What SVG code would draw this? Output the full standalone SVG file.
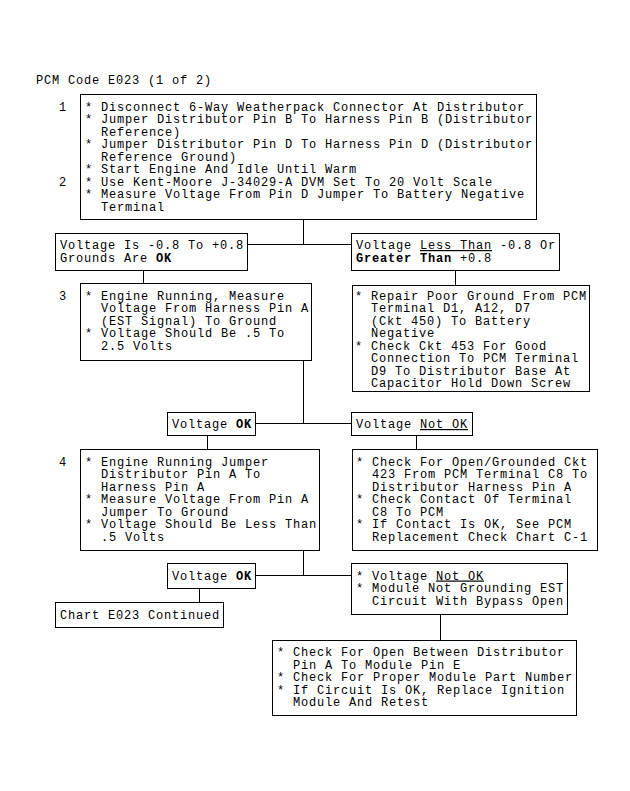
<svg xmlns="http://www.w3.org/2000/svg" width="630" height="791" viewBox="0 0 630 791">
<style>
text{font-family:"Liberation Mono","DejaVu Sans Mono",monospace;font-size:12px;letter-spacing:0.8px;fill:#000}
.b{font-weight:bold}
.u{text-decoration:underline}
rect{fill:#fff;stroke:#000;stroke-width:1}
line{stroke:#000;stroke-width:1}
</style>
<rect x="0" y="0" width="630" height="791" style="stroke:none"/>
<text x="36" y="84">PCM Code E023 (1 of 2)</text>
<g id="connectors" shape-rendering="crispEdges">
<line x1="303.5" y1="220" x2="303.5" y2="244.5"/>
<line x1="247" y1="244.5" x2="351" y2="244.5"/>
<line x1="143.5" y1="270" x2="143.5" y2="283"/>
<line x1="455.5" y1="270" x2="455.5" y2="285"/>
<line x1="303.5" y1="360" x2="303.5" y2="423.5"/>
<line x1="255" y1="423.5" x2="351" y2="423.5"/>
<line x1="207.5" y1="435" x2="207.5" y2="449"/>
<line x1="416.5" y1="435" x2="416.5" y2="449"/>
<line x1="303.5" y1="550" x2="303.5" y2="575.5"/>
<line x1="255" y1="575.5" x2="351" y2="575.5"/>
<line x1="199.5" y1="588" x2="199.5" y2="602"/>
<line x1="440.5" y1="614" x2="440.5" y2="640"/>
</g>
<g id="step1">
<rect x="80.5" y="94.5" width="456" height="125" shape-rendering="crispEdges"/>
<text x="59" y="110.5">1</text>
<text x="59" y="185.5">2</text>
<text x="85" y="110.5">* Disconnect 6-Way Weatherpack Connector At Distributor</text>
<text x="85" y="123">* Jumper Distributor Pin B To Harness Pin B (Distributor</text>
<text x="101" y="135.5">Reference)</text>
<text x="85" y="148">* Jumper Distributor Pin D To Harness Pin D (Distributor</text>
<text x="101" y="160.5">Reference Ground)</text>
<text x="85" y="173">* Start Engine And Idle Until Warm</text>
<text x="85" y="185.5">* Use Kent-Moore J-34029-A DVM Set To 20 Volt Scale</text>
<text x="85" y="198">* Measure Voltage From Pin D Jumper To Battery Negative</text>
<text x="101" y="210.5">Terminal</text>
</g>
<g id="groundsOK">
<rect x="55.5" y="233.5" width="192" height="37" shape-rendering="crispEdges"/>
<text x="60" y="249">Voltage Is -0.8 To +0.8</text>
<text x="60" y="261.5">Grounds Are <tspan class="b">OK</tspan></text>
</g>
<g id="groundsBad">
<rect x="351.5" y="233.5" width="208" height="37" shape-rendering="crispEdges"/>
<text x="356" y="249">Voltage <tspan class="u">Less Than</tspan> -0.8 Or</text>
<text x="356" y="261.5"><tspan class="b">Greater Than</tspan> +0.8</text>
</g>
<g id="step3">
<rect x="80.5" y="283.5" width="231" height="77" shape-rendering="crispEdges"/>
<text x="59" y="299.5">3</text>
<text x="85" y="299.5">* Engine Running, Measure</text>
<text x="101" y="312">Voltage From Harness Pin A</text>
<text x="101" y="324.5">(EST Signal) To Ground</text>
<text x="85" y="337">* Voltage Should Be .5 To</text>
<text x="101" y="349.5">2.5 Volts</text>
</g>
<g id="repairGround">
<rect x="352.5" y="285.5" width="237" height="106" shape-rendering="crispEdges"/>
<text x="355" y="299.5">* Repair Poor Ground From PCM</text>
<text x="371" y="312">Terminal D1, A12, D7</text>
<text x="371" y="324.5">(Ckt 450) To Battery</text>
<text x="371" y="337">Negative</text>
<text x="355" y="349.5">* Check Ckt 453 For Good</text>
<text x="371" y="362">Connection To PCM Terminal</text>
<text x="371" y="374.5">D9 To Distributor Base At</text>
<text x="371" y="387">Capacitor Hold Down Screw</text>
</g>
<g id="voltOK1">
<rect x="167.5" y="412.5" width="88" height="23" shape-rendering="crispEdges"/>
<text x="172" y="428">Voltage <tspan class="b">OK</tspan></text>
</g>
<g id="voltNotOK1">
<rect x="351.5" y="412.5" width="121" height="23" shape-rendering="crispEdges"/>
<text x="356" y="428">Voltage <tspan class="u">Not OK</tspan></text>
</g>
<g id="step4">
<rect x="80.5" y="449.5" width="239" height="101" shape-rendering="crispEdges"/>
<text x="59" y="465.5">4</text>
<text x="85" y="465.5">* Engine Running Jumper</text>
<text x="101" y="478">Distributor Pin A To</text>
<text x="101" y="490.5">Harness Pin A</text>
<text x="85" y="503">* Measure Voltage From Pin A</text>
<text x="101" y="515.5">Jumper To Ground</text>
<text x="85" y="528">* Voltage Should Be Less Than</text>
<text x="101" y="540.5">.5 Volts</text>
</g>
<g id="checkOpen423">
<rect x="352.5" y="449.5" width="245" height="101" shape-rendering="crispEdges"/>
<text x="356" y="465.5">* Check For Open/Grounded Ckt</text>
<text x="372" y="478">423 From PCM Terminal C8 To</text>
<text x="372" y="490.5">Distributor Harness Pin A</text>
<text x="356" y="503">* Check Contact Of Terminal</text>
<text x="372" y="515.5">C8 To PCM</text>
<text x="356" y="528">* If Contact Is OK, See PCM</text>
<text x="372" y="540.5">Replacement Check Chart C-1</text>
</g>
<g id="voltOK2">
<rect x="167.5" y="563.5" width="88" height="25" shape-rendering="crispEdges"/>
<text x="172" y="580">Voltage <tspan class="b">OK</tspan></text>
</g>
<g id="continued">
<rect x="55.5" y="602.5" width="168" height="25" shape-rendering="crispEdges"/>
<text x="60" y="619">Chart E023 Continued</text>
</g>
<g id="voltNotOK2">
<rect x="351.5" y="563.5" width="216" height="51" shape-rendering="crispEdges"/>
<text x="356" y="579.5">* Voltage <tspan class="u">Not OK</tspan></text>
<text x="356" y="592">* Module Not Grounding EST</text>
<text x="372" y="604.5">Circuit With Bypass Open</text>
</g>
<g id="checkModule">
<rect x="272.5" y="640.5" width="304" height="75" shape-rendering="crispEdges"/>
<text x="277" y="656">* Check For Open Between Distributor</text>
<text x="293" y="668.5">Pin A To Module Pin E</text>
<text x="277" y="681">* Check For Proper Module Part Number</text>
<text x="277" y="693.5">* If Circuit Is OK, Replace Ignition</text>
<text x="293" y="706">Module And Retest</text>
</g>
</svg>
